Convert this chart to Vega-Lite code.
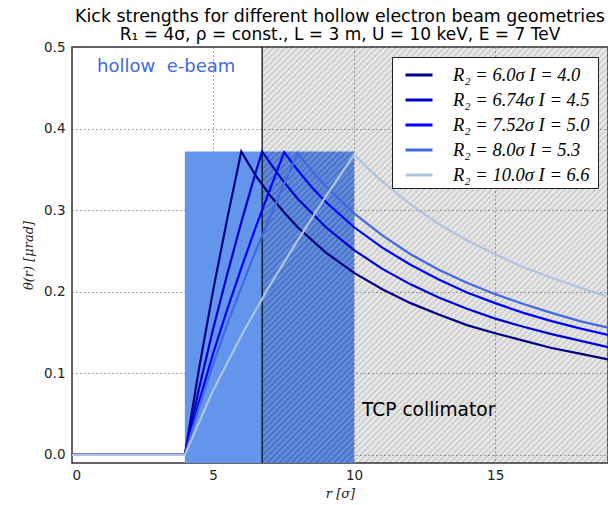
{
  "$schema": "https://vega.github.io/schema/vega-lite/v6.json",
  "width": 536,
  "height": 416,
  "autosize": {"type": "none"},
  "padding": {"left": 72, "top": 47, "right": 0, "bottom": 42},
  "background": "white",
  "title": {
    "text": "Kick strengths for different hollow electron beam geometries",
    "subtitle": "R₁ = 4σ, ρ = const., L = 3 m, U = 10 keV, E = 7 TeV",
    "anchor": "middle",
    "font": "DejaVu Sans",
    "fontSize": 17.4,
    "fontWeight": "normal",
    "color": "black",
    "subtitleFont": "DejaVu Sans",
    "subtitleFontSize": 17,
    "subtitleColor": "black",
    "subtitlePadding": 2,
    "offset": -3
  },
  "config": {
    "view": {"stroke": "#333333", "strokeWidth": 1.5},
    "axis": {
      "domain": false,
      "ticks": false,
      "grid": true,
      "gridColor": "#555555",
      "gridDash": [1, 3],
      "gridWidth": 1,
      "labelFont": "DejaVu Sans",
      "labelFontSize": 13.5,
      "labelColor": "#222222",
      "titleFont": "DejaVu Serif",
      "titleFontStyle": "italic",
      "titleFontWeight": "normal",
      "titleFontSize": 13,
      "titleColor": "#222222",
      "zindex": 1
    }
  },
  "layer": [
    {
      "data": {"values": [{"r1": 4, "r2": 6.74, "t1": -0.01, "t2": 0.372}]},
      "mark": {"type": "rect", "fill": "#6495ED"},
      "encoding": {
        "x": {"field": "r1", "type": "quantitative", "scale": {"domain": [0, 19], "nice": false, "zero": false},
          "axis": {"values": [0, 5, 10, 15], "title": "r [σ]", "labelPadding": 5, "titlePadding": 6}},
        "x2": {"field": "r2"},
        "y": {"field": "t1", "type": "quantitative", "scale": {"domain": [-0.01, 0.5], "nice": false, "zero": false},
          "axis": {"values": [0, 0.1, 0.2, 0.3, 0.4, 0.5], "format": ".1f", "title": "θ(r) [μrad]", "labelPadding": 7, "titlePadding": 8}},
        "y2": {"field": "t2"}
      }
    },
    {
      "data": {"values": [{"r1": 6.74, "r2": 10, "t1": -0.01, "t2": 0.372}]},
      "mark": {"type": "rect", "fill": "#588CF2"},
      "encoding": {
        "x": {"field": "r1", "type": "quantitative"},
        "x2": {"field": "r2"},
        "y": {"field": "t1", "type": "quantitative"},
        "y2": {"field": "t2"}
      }
    },
    {
      "data": {"values": [{"r1": 6.74, "r2": 19, "t1": -0.01, "t2": 0.5}]},
      "mark": {
        "type": "rect",
        "fillOpacity": 0.2,
        "fill": {
          "gradient": "linear", "x1": 0, "y1": 0, "x2": 0.901, "y2": 1.083,
          "stops": [
            {"offset": 0, "color": "#000"}, {"offset": 0.004, "color": "#aaa"}, {"offset": 0.008, "color": "#000"}, {"offset": 0.012, "color": "#aaa"}, {"offset": 0.016, "color": "#000"}, {"offset": 0.02, "color": "#aaa"}, {"offset": 0.024, "color": "#000"}, {"offset": 0.028, "color": "#aaa"}, {"offset": 0.032, "color": "#000"}, {"offset": 0.036, "color": "#aaa"}, {"offset": 0.04, "color": "#000"}, {"offset": 0.044, "color": "#aaa"}, {"offset": 0.048, "color": "#000"}, {"offset": 0.052, "color": "#aaa"}, {"offset": 0.056, "color": "#000"}, {"offset": 0.06, "color": "#aaa"}, {"offset": 0.064, "color": "#000"}, {"offset": 0.068, "color": "#aaa"}, {"offset": 0.072, "color": "#000"}, {"offset": 0.076, "color": "#aaa"}, {"offset": 0.08, "color": "#000"}, {"offset": 0.084, "color": "#aaa"}, {"offset": 0.088, "color": "#000"}, {"offset": 0.092, "color": "#aaa"}, {"offset": 0.096, "color": "#000"},
            {"offset": 0.1, "color": "#aaa"}, {"offset": 0.104, "color": "#000"}, {"offset": 0.108, "color": "#aaa"}, {"offset": 0.112, "color": "#000"}, {"offset": 0.116, "color": "#aaa"}, {"offset": 0.12, "color": "#000"}, {"offset": 0.124, "color": "#aaa"}, {"offset": 0.128, "color": "#000"}, {"offset": 0.132, "color": "#aaa"}, {"offset": 0.136, "color": "#000"}, {"offset": 0.14, "color": "#aaa"}, {"offset": 0.144, "color": "#000"}, {"offset": 0.148, "color": "#aaa"}, {"offset": 0.152, "color": "#000"}, {"offset": 0.156, "color": "#aaa"}, {"offset": 0.16, "color": "#000"}, {"offset": 0.164, "color": "#aaa"}, {"offset": 0.168, "color": "#000"}, {"offset": 0.172, "color": "#aaa"}, {"offset": 0.176, "color": "#000"}, {"offset": 0.18, "color": "#aaa"}, {"offset": 0.184, "color": "#000"}, {"offset": 0.188, "color": "#aaa"}, {"offset": 0.192, "color": "#000"}, {"offset": 0.196, "color": "#aaa"},
            {"offset": 0.2, "color": "#000"}, {"offset": 0.204, "color": "#aaa"}, {"offset": 0.208, "color": "#000"}, {"offset": 0.212, "color": "#aaa"}, {"offset": 0.216, "color": "#000"}, {"offset": 0.22, "color": "#aaa"}, {"offset": 0.224, "color": "#000"}, {"offset": 0.228, "color": "#aaa"}, {"offset": 0.232, "color": "#000"}, {"offset": 0.236, "color": "#aaa"}, {"offset": 0.24, "color": "#000"}, {"offset": 0.244, "color": "#aaa"}, {"offset": 0.248, "color": "#000"}, {"offset": 0.252, "color": "#aaa"}, {"offset": 0.256, "color": "#000"}, {"offset": 0.26, "color": "#aaa"}, {"offset": 0.264, "color": "#000"}, {"offset": 0.268, "color": "#aaa"}, {"offset": 0.272, "color": "#000"}, {"offset": 0.276, "color": "#aaa"}, {"offset": 0.28, "color": "#000"}, {"offset": 0.284, "color": "#aaa"}, {"offset": 0.288, "color": "#000"}, {"offset": 0.292, "color": "#aaa"}, {"offset": 0.296, "color": "#000"},
            {"offset": 0.3, "color": "#aaa"}, {"offset": 0.304, "color": "#000"}, {"offset": 0.308, "color": "#aaa"}, {"offset": 0.312, "color": "#000"}, {"offset": 0.316, "color": "#aaa"}, {"offset": 0.32, "color": "#000"}, {"offset": 0.324, "color": "#aaa"}, {"offset": 0.328, "color": "#000"}, {"offset": 0.332, "color": "#aaa"}, {"offset": 0.336, "color": "#000"}, {"offset": 0.34, "color": "#aaa"}, {"offset": 0.344, "color": "#000"}, {"offset": 0.348, "color": "#aaa"}, {"offset": 0.352, "color": "#000"}, {"offset": 0.356, "color": "#aaa"}, {"offset": 0.36, "color": "#000"}, {"offset": 0.364, "color": "#aaa"}, {"offset": 0.368, "color": "#000"}, {"offset": 0.372, "color": "#aaa"}, {"offset": 0.376, "color": "#000"}, {"offset": 0.38, "color": "#aaa"}, {"offset": 0.384, "color": "#000"}, {"offset": 0.388, "color": "#aaa"}, {"offset": 0.392, "color": "#000"}, {"offset": 0.396, "color": "#aaa"},
            {"offset": 0.4, "color": "#000"}, {"offset": 0.404, "color": "#aaa"}, {"offset": 0.408, "color": "#000"}, {"offset": 0.412, "color": "#aaa"}, {"offset": 0.416, "color": "#000"}, {"offset": 0.42, "color": "#aaa"}, {"offset": 0.424, "color": "#000"}, {"offset": 0.428, "color": "#aaa"}, {"offset": 0.432, "color": "#000"}, {"offset": 0.436, "color": "#aaa"}, {"offset": 0.44, "color": "#000"}, {"offset": 0.444, "color": "#aaa"}, {"offset": 0.448, "color": "#000"}, {"offset": 0.452, "color": "#aaa"}, {"offset": 0.456, "color": "#000"}, {"offset": 0.46, "color": "#aaa"}, {"offset": 0.464, "color": "#000"}, {"offset": 0.468, "color": "#aaa"}, {"offset": 0.472, "color": "#000"}, {"offset": 0.476, "color": "#aaa"}, {"offset": 0.48, "color": "#000"}, {"offset": 0.484, "color": "#aaa"}, {"offset": 0.488, "color": "#000"}, {"offset": 0.492, "color": "#aaa"}, {"offset": 0.496, "color": "#000"},
            {"offset": 0.5, "color": "#aaa"}, {"offset": 0.504, "color": "#000"}, {"offset": 0.508, "color": "#aaa"}, {"offset": 0.512, "color": "#000"}, {"offset": 0.516, "color": "#aaa"}, {"offset": 0.52, "color": "#000"}, {"offset": 0.524, "color": "#aaa"}, {"offset": 0.528, "color": "#000"}, {"offset": 0.532, "color": "#aaa"}, {"offset": 0.536, "color": "#000"}, {"offset": 0.54, "color": "#aaa"}, {"offset": 0.544, "color": "#000"}, {"offset": 0.548, "color": "#aaa"}, {"offset": 0.552, "color": "#000"}, {"offset": 0.556, "color": "#aaa"}, {"offset": 0.56, "color": "#000"}, {"offset": 0.564, "color": "#aaa"}, {"offset": 0.568, "color": "#000"}, {"offset": 0.572, "color": "#aaa"}, {"offset": 0.576, "color": "#000"}, {"offset": 0.58, "color": "#aaa"}, {"offset": 0.584, "color": "#000"}, {"offset": 0.588, "color": "#aaa"}, {"offset": 0.592, "color": "#000"}, {"offset": 0.596, "color": "#aaa"},
            {"offset": 0.6, "color": "#000"}, {"offset": 0.604, "color": "#aaa"}, {"offset": 0.608, "color": "#000"}, {"offset": 0.612, "color": "#aaa"}, {"offset": 0.616, "color": "#000"}, {"offset": 0.62, "color": "#aaa"}, {"offset": 0.624, "color": "#000"}, {"offset": 0.628, "color": "#aaa"}, {"offset": 0.632, "color": "#000"}, {"offset": 0.636, "color": "#aaa"}, {"offset": 0.64, "color": "#000"}, {"offset": 0.644, "color": "#aaa"}, {"offset": 0.648, "color": "#000"}, {"offset": 0.652, "color": "#aaa"}, {"offset": 0.656, "color": "#000"}, {"offset": 0.66, "color": "#aaa"}, {"offset": 0.664, "color": "#000"}, {"offset": 0.668, "color": "#aaa"}, {"offset": 0.672, "color": "#000"}, {"offset": 0.676, "color": "#aaa"}, {"offset": 0.68, "color": "#000"}, {"offset": 0.684, "color": "#aaa"}, {"offset": 0.688, "color": "#000"}, {"offset": 0.692, "color": "#aaa"}, {"offset": 0.696, "color": "#000"},
            {"offset": 0.7, "color": "#aaa"}, {"offset": 0.704, "color": "#000"}, {"offset": 0.708, "color": "#aaa"}, {"offset": 0.712, "color": "#000"}, {"offset": 0.716, "color": "#aaa"}, {"offset": 0.72, "color": "#000"}, {"offset": 0.724, "color": "#aaa"}, {"offset": 0.728, "color": "#000"}, {"offset": 0.732, "color": "#aaa"}, {"offset": 0.736, "color": "#000"}, {"offset": 0.74, "color": "#aaa"}, {"offset": 0.744, "color": "#000"}, {"offset": 0.748, "color": "#aaa"}, {"offset": 0.752, "color": "#000"}, {"offset": 0.756, "color": "#aaa"}, {"offset": 0.76, "color": "#000"}, {"offset": 0.764, "color": "#aaa"}, {"offset": 0.768, "color": "#000"}, {"offset": 0.772, "color": "#aaa"}, {"offset": 0.776, "color": "#000"}, {"offset": 0.78, "color": "#aaa"}, {"offset": 0.784, "color": "#000"}, {"offset": 0.788, "color": "#aaa"}, {"offset": 0.792, "color": "#000"}, {"offset": 0.796, "color": "#aaa"},
            {"offset": 0.8, "color": "#000"}, {"offset": 0.804, "color": "#aaa"}, {"offset": 0.808, "color": "#000"}, {"offset": 0.812, "color": "#aaa"}, {"offset": 0.816, "color": "#000"}, {"offset": 0.82, "color": "#aaa"}, {"offset": 0.824, "color": "#000"}, {"offset": 0.828, "color": "#aaa"}, {"offset": 0.832, "color": "#000"}, {"offset": 0.836, "color": "#aaa"}, {"offset": 0.84, "color": "#000"}, {"offset": 0.844, "color": "#aaa"}, {"offset": 0.848, "color": "#000"}, {"offset": 0.852, "color": "#aaa"}, {"offset": 0.856, "color": "#000"}, {"offset": 0.86, "color": "#aaa"}, {"offset": 0.864, "color": "#000"}, {"offset": 0.868, "color": "#aaa"}, {"offset": 0.872, "color": "#000"}, {"offset": 0.876, "color": "#aaa"}, {"offset": 0.88, "color": "#000"}, {"offset": 0.884, "color": "#aaa"}, {"offset": 0.888, "color": "#000"}, {"offset": 0.892, "color": "#aaa"}, {"offset": 0.896, "color": "#000"},
            {"offset": 0.9, "color": "#aaa"}, {"offset": 0.904, "color": "#000"}, {"offset": 0.908, "color": "#aaa"}, {"offset": 0.912, "color": "#000"}, {"offset": 0.916, "color": "#aaa"}, {"offset": 0.92, "color": "#000"}, {"offset": 0.924, "color": "#aaa"}, {"offset": 0.928, "color": "#000"}, {"offset": 0.932, "color": "#aaa"}, {"offset": 0.936, "color": "#000"}, {"offset": 0.94, "color": "#aaa"}, {"offset": 0.944, "color": "#000"}, {"offset": 0.948, "color": "#aaa"}, {"offset": 0.952, "color": "#000"}, {"offset": 0.956, "color": "#aaa"}, {"offset": 0.96, "color": "#000"}, {"offset": 0.964, "color": "#aaa"}, {"offset": 0.968, "color": "#000"}, {"offset": 0.972, "color": "#aaa"}, {"offset": 0.976, "color": "#000"}, {"offset": 0.98, "color": "#aaa"}, {"offset": 0.984, "color": "#000"}, {"offset": 0.988, "color": "#aaa"}, {"offset": 0.992, "color": "#000"}, {"offset": 0.996, "color": "#aaa"},
            {"offset": 1, "color": "#555"}
          ]
        }
      },
      "encoding": {
        "x": {"field": "r1", "type": "quantitative"},
        "x2": {"field": "r2"},
        "y": {"field": "t1", "type": "quantitative"},
        "y2": {"field": "t2"}
      }
    },
    {
      "data": {"values": [{"r": 6.74}]},
      "mark": {"type": "rule", "color": "black", "strokeWidth": 1.2},
      "encoding": {"x": {"field": "r", "type": "quantitative"}}
    },
    {
      "data": {"values": [
        {"c": "a", "r": 0, "t": 0}, {"c": "a", "r": 4, "t": 0}, {"c": "a", "r": 4.5, "t": 0.105}, {"c": "a", "r": 5, "t": 0.201}, {"c": "a", "r": 5.5, "t": 0.289}, {"c": "a", "r": 6, "t": 0.372}, {"c": "a", "r": 6.5, "t": 0.343}, {"c": "a", "r": 7, "t": 0.319}, {"c": "a", "r": 7.5, "t": 0.298}, {"c": "a", "r": 8, "t": 0.279}, {"c": "a", "r": 9, "t": 0.248}, {"c": "a", "r": 10, "t": 0.223}, {"c": "a", "r": 11, "t": 0.203}, {"c": "a", "r": 12, "t": 0.186}, {"c": "a", "r": 13, "t": 0.172}, {"c": "a", "r": 14, "t": 0.159}, {"c": "a", "r": 15, "t": 0.149}, {"c": "a", "r": 16, "t": 0.14}, {"c": "a", "r": 17, "t": 0.131}, {"c": "a", "r": 18, "t": 0.124}, {"c": "a", "r": 19, "t": 0.117},
        {"c": "b", "r": 0, "t": 0}, {"c": "b", "r": 4, "t": 0}, {"c": "b", "r": 4.5, "t": 0.081}, {"c": "b", "r": 5, "t": 0.154}, {"c": "b", "r": 5.5, "t": 0.221}, {"c": "b", "r": 6, "t": 0.285}, {"c": "b", "r": 6.5, "t": 0.345}, {"c": "b", "r": 6.74, "t": 0.372}, {"c": "b", "r": 7, "t": 0.359}, {"c": "b", "r": 7.5, "t": 0.335}, {"c": "b", "r": 8, "t": 0.314}, {"c": "b", "r": 9, "t": 0.279}, {"c": "b", "r": 10, "t": 0.251}, {"c": "b", "r": 11, "t": 0.228}, {"c": "b", "r": 12, "t": 0.209}, {"c": "b", "r": 13, "t": 0.193}, {"c": "b", "r": 14, "t": 0.179}, {"c": "b", "r": 15, "t": 0.167}, {"c": "b", "r": 16, "t": 0.157}, {"c": "b", "r": 17, "t": 0.148}, {"c": "b", "r": 18, "t": 0.14}, {"c": "b", "r": 19, "t": 0.132},
        {"c": "c", "r": 0, "t": 0}, {"c": "c", "r": 4, "t": 0}, {"c": "c", "r": 4.5, "t": 0.065}, {"c": "c", "r": 5, "t": 0.124}, {"c": "c", "r": 5.5, "t": 0.178}, {"c": "c", "r": 6, "t": 0.229}, {"c": "c", "r": 6.5, "t": 0.278}, {"c": "c", "r": 7, "t": 0.324}, {"c": "c", "r": 7.52, "t": 0.371}, {"c": "c", "r": 8, "t": 0.349}, {"c": "c", "r": 8.5, "t": 0.328}, {"c": "c", "r": 9, "t": 0.31}, {"c": "c", "r": 10, "t": 0.279}, {"c": "c", "r": 11, "t": 0.254}, {"c": "c", "r": 12, "t": 0.233}, {"c": "c", "r": 13, "t": 0.215}, {"c": "c", "r": 14, "t": 0.199}, {"c": "c", "r": 15, "t": 0.186}, {"c": "c", "r": 16, "t": 0.174}, {"c": "c", "r": 17, "t": 0.164}, {"c": "c", "r": 18, "t": 0.155}, {"c": "c", "r": 19, "t": 0.147},
        {"c": "d", "r": 0, "t": 0}, {"c": "d", "r": 4, "t": 0}, {"c": "d", "r": 4.5, "t": 0.058}, {"c": "d", "r": 5, "t": 0.111}, {"c": "d", "r": 5.5, "t": 0.16}, {"c": "d", "r": 6, "t": 0.205}, {"c": "d", "r": 6.5, "t": 0.249}, {"c": "d", "r": 7, "t": 0.29}, {"c": "d", "r": 7.5, "t": 0.331}, {"c": "d", "r": 8, "t": 0.37}, {"c": "d", "r": 8.5, "t": 0.348}, {"c": "d", "r": 9, "t": 0.329}, {"c": "d", "r": 10, "t": 0.296}, {"c": "d", "r": 11, "t": 0.269}, {"c": "d", "r": 12, "t": 0.246}, {"c": "d", "r": 13, "t": 0.227}, {"c": "d", "r": 14, "t": 0.211}, {"c": "d", "r": 15, "t": 0.197}, {"c": "d", "r": 16, "t": 0.185}, {"c": "d", "r": 17, "t": 0.174}, {"c": "d", "r": 18, "t": 0.164}, {"c": "d", "r": 19, "t": 0.156},
        {"c": "e", "r": 0, "t": 0}, {"c": "e", "r": 4, "t": 0}, {"c": "e", "r": 5, "t": 0.079}, {"c": "e", "r": 6, "t": 0.146}, {"c": "e", "r": 7, "t": 0.207}, {"c": "e", "r": 8, "t": 0.263}, {"c": "e", "r": 9, "t": 0.317}, {"c": "e", "r": 10, "t": 0.368}, {"c": "e", "r": 10.5, "t": 0.351}, {"c": "e", "r": 11, "t": 0.335}, {"c": "e", "r": 12, "t": 0.307}, {"c": "e", "r": 13, "t": 0.283}, {"c": "e", "r": 14, "t": 0.263}, {"c": "e", "r": 15, "t": 0.246}, {"c": "e", "r": 16, "t": 0.23}, {"c": "e", "r": 17, "t": 0.217}, {"c": "e", "r": 18, "t": 0.205}, {"c": "e", "r": 19, "t": 0.194}
      ]},
      "mark": {"type": "line", "strokeWidth": 2.2, "clip": true},
      "encoding": {
        "x": {"field": "r", "type": "quantitative"},
        "y": {"field": "t", "type": "quantitative"},
        "color": {
          "field": "c",
          "type": "nominal",
          "scale": {"domain": ["a", "b", "c", "d", "e"], "range": ["#000080", "#0000CD", "#0000FF", "#4169E1", "#B0C4DE"]},
          "legend": {
            "title": null,
            "orient": "top-right",
            "offset": 10,
            "fillColor": "white",
            "strokeColor": "#222222",
            "padding": 3,
            "symbolOffset": 9,
            "symbolType": "stroke",
            "symbolSize": 729,
            "symbolStrokeWidth": 3,
            "rowPadding": 0,
            "labelOffset": 19,
            "labelFont": "Liberation Serif",
            "labelFontStyle": "italic",
            "labelFontSize": 18.5,
            "labelColor": "black",
            "zindex": 2,
            "labelExpr": "['R₂ = 6.0σ  I = 4.0 ','R₂ = 6.74σ  I = 4.5 ','R₂ = 7.52σ  I = 5.0 ','R₂ = 8.0σ  I = 5.3 ','R₂ = 10.0σ  I = 6.6 '][indexof(['a','b','c','d','e'], datum.value)]"
          }
        }
      }
    },
    {
      "data": {"values": [{"r": 0.89, "t": 0.476, "label": "hollow\u00a0\u00a0e-beam"}]},
      "mark": {"type": "text", "align": "left", "baseline": "middle", "font": "DejaVu Sans", "fontSize": 18, "color": "#4169E1"},
      "encoding": {
        "x": {"field": "r", "type": "quantitative"},
        "y": {"field": "t", "type": "quantitative"},
        "text": {"field": "label"}
      }
    },
    {
      "data": {"values": [{"r": 10.28, "t": 0.055, "label": "TCP collimator"}]},
      "mark": {"type": "text", "align": "left", "baseline": "middle", "font": "DejaVu Sans", "fontSize": 18.6, "color": "black"},
      "encoding": {
        "x": {"field": "r", "type": "quantitative"},
        "y": {"field": "t", "type": "quantitative"},
        "text": {"field": "label"}
      }
    }
  ]
}
